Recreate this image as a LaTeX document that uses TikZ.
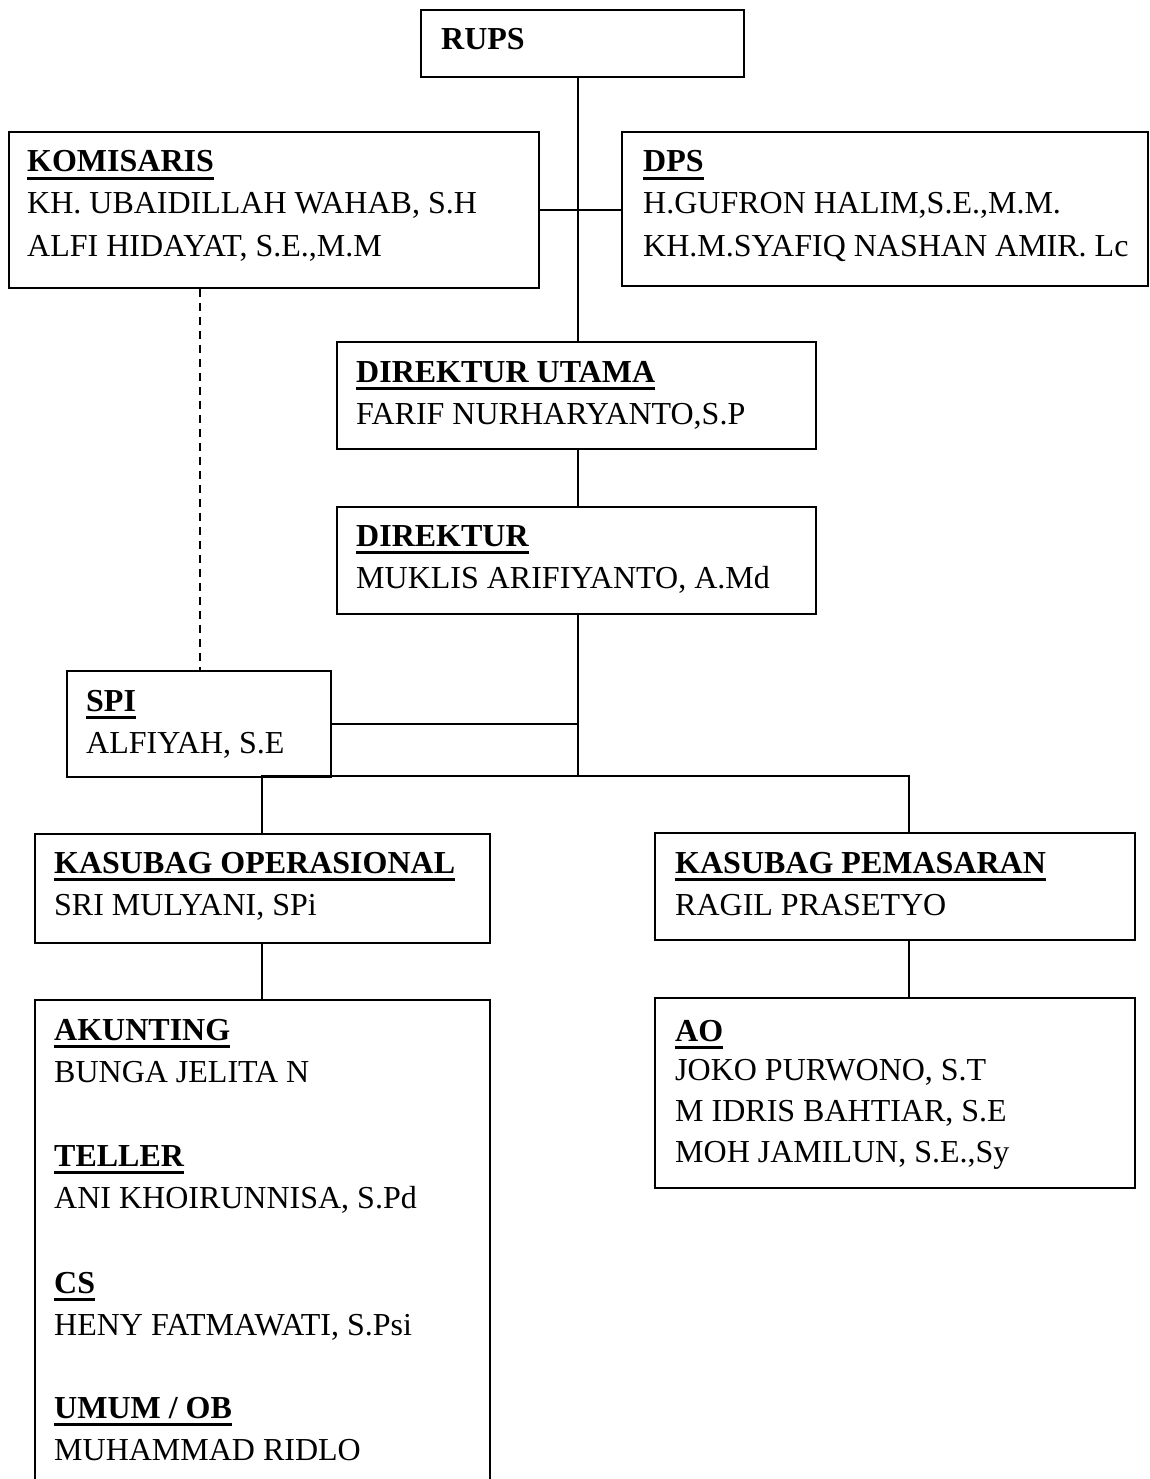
\documentclass[tikz,border=0pt]{standalone}
\usepackage{fontspec}
\setmainfont{Liberation Serif}
\newcommand\hdline[1]{\setbox0\hbox{\bfseries #1}\rlap{\rule[-8pt]{\wd0}{2.8pt}}\box0}
\tikzset{
  orgbox/.style={draw, line width=1.6pt, inner sep=0pt, anchor=north west},
  txt/.style={anchor=base west, inner sep=0pt, font=\fontsize{32pt}{42pt}\selectfont},
  link/.style={line width=1.6pt},
  dashlink/.style={line width=1.6pt, dash pattern=on 8pt off 6pt}
}
\begin{document}
\begin{tikzpicture}[x=1pt, y=-1pt]
\useasboundingbox (0,0) rectangle (1150,1479);
\clip (0,0) rectangle (1150,1479);
\fill[white] (0,0) rectangle (1150,1479);

% boxes
\node[orgbox, minimum width=323pt, minimum height=67pt] (rups) at (420,9) {};
\node[orgbox, minimum width=530pt, minimum height=156pt] (kom) at (8,131) {};
\node[orgbox, minimum width=526pt, minimum height=154pt] (dps) at (621,131) {};
\node[orgbox, minimum width=479pt, minimum height=107pt] (dirut) at (336,341) {};
\node[orgbox, minimum width=479pt, minimum height=107pt] (dir) at (336,506) {};
\node[orgbox, minimum width=264pt, minimum height=106pt] (spi) at (66,670) {};
\node[orgbox, minimum width=455pt, minimum height=109pt] (kop) at (34,833) {};
\node[orgbox, minimum width=480pt, minimum height=107pt] (kpm) at (654,832) {};
\node[orgbox, minimum width=455pt, minimum height=520pt] (staff) at (34,999) {};
\node[orgbox, minimum width=480pt, minimum height=190pt] (ao) at (654,997) {};

% texts
\node[txt] (t-rups) at (441,50) {\bfseries RUPS};

\node[txt] (t-kom) at (27,172) {\hdline{KOMISARIS}};
\node[txt] (t-kom1) at (27,214) {KH. UBAIDILLAH WAHAB, S.H};
\node[txt] (t-kom2) at (27,256) {ALFI HIDAYAT, S.E.,M.M};

\node[txt] (t-dps) at (643,172) {\hdline{DPS}};
\node[txt] (t-dps1) at (643,214) {H.GUFRON HALIM,S.E.,M.M.};
\node[txt] (t-dps2) at (643,256) {KH.M.SYAFIQ NASHAN AMIR. Lc};

\node[txt] (t-dirut) at (356,382) {\hdline{DIREKTUR UTAMA}};
\node[txt] (t-dirut1) at (356,424) {FARIF NURHARYANTO,S.P};

\node[txt] (t-dir) at (356,546) {\hdline{DIREKTUR}};
\node[txt] (t-dir1) at (356,588) {MUKLIS ARIFIYANTO, A.Md};

\node[txt] (t-spi) at (86,711) {\hdline{SPI}};
\node[txt] (t-spi1) at (86,753) {ALFIYAH, S.E};

\node[txt] (t-kop) at (54,873) {\hdline{KASUBAG OPERASIONAL}};
\node[txt] (t-kop1) at (54,915) {SRI MULYANI, SPi};

\node[txt] (t-kpm) at (675,873) {\hdline{KASUBAG PEMASARAN}};
\node[txt] (t-kpm1) at (675,915) {RAGIL PRASETYO};

\node[txt] (t-ak) at (54,1040) {\hdline{AKUNTING}};
\node[txt] (t-ak1) at (54,1082) {BUNGA JELITA N};
\node[txt] (t-tl) at (54,1166) {\hdline{TELLER}};
\node[txt] (t-tl1) at (54,1208) {ANI KHOIRUNNISA, S.Pd};
\node[txt] (t-cs) at (54,1293) {\hdline{CS}};
\node[txt] (t-cs1) at (54,1335) {HENY FATMAWATI, S.Psi};
\node[txt] (t-ob) at (54,1418) {\hdline{UMUM / OB}};
\node[txt] (t-ob1) at (54,1460) {MUHAMMAD RIDLO};

\node[txt] (t-ao) at (675,1041) {\hdline{AO}};
\node[txt] (t-ao1) at (675,1080) {JOKO PURWONO, S.T};
\node[txt] (t-ao2) at (675,1121) {M IDRIS BAHTIAR, S.E};
\node[txt] (t-ao3) at (675,1162) {MOH JAMILUN, S.E.,Sy};

% connector helpers
\coordinate (spine) at (578,0);
\coordinate (branch) at (578,776);
\coordinate (lx) at (262,0);
\coordinate (rx) at (909,0);
\coordinate (dx) at (200,0);

% connectors
\draw[link] (spine |- rups.south) -- (spine |- dirut.north);
\draw[link] (kom.east) -- (kom.east -| dps.west);
\draw[link] (spine |- dirut.south) -- (spine |- dir.north);
\draw[link] (spine |- dir.south) -- (branch);
\draw[link] (spi.east) -- (spi.east -| spine);
\draw[dashlink] (dx |- kom.south) -- (dx |- spi.north);
\draw[link] (lx |- kop.north) -- (lx |- branch) -- (rx |- branch) -- (rx |- kpm.north);
\draw[link] (lx |- kop.south) -- (lx |- staff.north);
\draw[link] (rx |- kpm.south) -- (rx |- ao.north);
\end{tikzpicture}
\end{document}
